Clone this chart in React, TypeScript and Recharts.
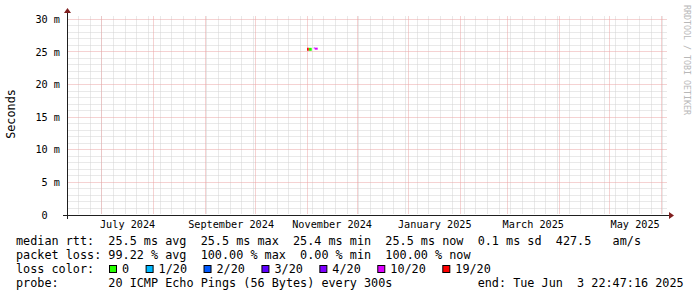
import { ComposedChart, Line, XAxis, YAxis, ReferenceLine } from 'recharts'

// time window of the graph (UTC ms)
const startTime = Date.UTC(2024, 5, 10, 5)
const endTime = Date.UTC(2025, 5, 4, 14)

// x axis labels (centred in the middle of each labelled month)
const monthLabels = ['July 2024', 'September 2024', 'November 2024', 'January 2025', 'March 2025', 'May 2025']
const monthLabelTimes = [
  Date.UTC(2024, 6, 16, 12),
  Date.UTC(2024, 8, 16, 12),
  Date.UTC(2024, 10, 16, 0),
  Date.UTC(2025, 0, 16, 12),
  Date.UTC(2025, 2, 16, 12),
  Date.UTC(2025, 4, 16, 12),
]

// major vertical grid: first of every month
const monthStarts = [
  Date.UTC(2024, 6, 1), Date.UTC(2024, 7, 1), Date.UTC(2024, 8, 1), Date.UTC(2024, 9, 1),
  Date.UTC(2024, 10, 1), Date.UTC(2024, 11, 1), Date.UTC(2025, 0, 1), Date.UTC(2025, 1, 1),
  Date.UTC(2025, 2, 1), Date.UTC(2025, 3, 1), Date.UTC(2025, 4, 1), Date.UTC(2025, 5, 1),
]

// minor vertical grid: mondays
const weekStarts: number[] = []
for (let t = Date.UTC(2024, 5, 17); t <= endTime; t += 7 * 86400000) weekStarts.push(t)

// y axis (milliseconds)
const yMax = 30.66
const yTicks = [0, 5, 10, 15, 20, 25, 30]
const yMinor = [1, 2, 3, 4, 6, 7, 8, 9, 11, 12, 13, 14, 16, 17, 18, 19, 21, 22, 23, 24, 26, 27, 28, 29]

// loss colours
const lossLabels = ['0', '1/20', '2/20', '3/20', '4/20', '10/20', '19/20']
const lossColors = ['#26ff00', '#00b8ff', '#0059ff', '#5e00ff', '#7e00ff', '#dd00ff', '#ff0000']

// the few median samples that got answers
const segFrom = [Date.UTC(2024, 10, 1, 0), Date.UTC(2024, 10, 2, 0), Date.UTC(2024, 10, 5, 0), Date.UTC(2024, 10, 5, 14)]
const segTo = [Date.UTC(2024, 10, 2, 0), Date.UTC(2024, 10, 3, 19), Date.UTC(2024, 10, 5, 14), Date.UTC(2024, 10, 7, 9)]
const segMedian = [25.4, 25.4, 25.6, 25.5]
const segLoss = ['19/20', '0', '4/20', '10/20']

const statLines = [
  'median rtt:  25.5 ms avg  25.5 ms max  25.4 ms min  25.5 ms now  0.1 ms sd  427.5   am/s',
  'packet loss: 99.22 % avg  100.00 % max  0.00 % min  100.00 % now',
]
const probeLine = 'probe:       20 ICMP Echo Pings (56 Bytes) every 300s            end: Tue Jun  3 22:47:16 2025'

const rows: Record<string, number>[] = []
segFrom.forEach((from, i) => {
  const key = 'loss' + lossLabels.indexOf(segLoss[i])
  rows.push({ t: from, [key]: segMedian[i] }, { t: segTo[i], [key]: segMedian[i] })
})

const mono = 'DejaVu Sans Mono'
const axisFont = 10.2
const legendFont = 11.8
const charW = legendFont * 0.6021

const minorColor = '#d2d2d2'
const majorColor = '#eba4a4'

// snap a grid line onto the pixel grid so the 1px dots stay sharp
const snap = (v: number) => Math.floor(v) + 0.5
const gridShape = (color: string) => (p: any) => (
  <line
    x1={snap(p.x1)}
    y1={p.y1 === p.y2 ? snap(p.y1) : snap(p.y1) - 2}
    x2={snap(p.x2)}
    y2={snap(p.y2)}
    stroke={color}
    strokeWidth={1}
    strokeDasharray="1 1"
  />
)

function XTick(props: any) {
  const { x, y, payload } = props
  const i = monthLabelTimes.indexOf(payload.value)
  return (
    <text x={x} y={y} textAnchor="middle" fontFamily={mono} fontSize={axisFont} fill="#000">
      {monthLabels[i]}
    </text>
  )
}

function YTick(props: any) {
  const { x, y, payload } = props
  const v = payload.value
  const label = v === 0 ? '0' : `${v} m`
  const shift = v === 0 ? 2 * axisFont * 0.6021 : 0
  return (
    <text x={x - shift} y={y + 3.6} textAnchor="end" fontFamily={mono} fontSize={axisFont} fill="#000">
      {label}
    </text>
  )
}

function Overlay() {
  let bx = 109
  const boxes = lossLabels.map((label, i) => {
    const x = bx
    bx += 12.5 + label.length * charW + 17
    return (
      <g key={label}>
        <rect x={x + 0.5} y={265.5} width={7} height={7} fill={lossColors[i]} stroke="#000" strokeWidth={1} />
        <text x={x + 13} y={273} fontFamily={mono} fontSize={legendFont}>{label}</text>
      </g>
    )
  })
  return (
    <svg width={697} height={297} style={{ position: 'absolute', left: 0, top: 0, pointerEvents: 'none' }}>
      <text transform="translate(15,114) rotate(-90)" textAnchor="middle" fontFamily={mono} fontSize={legendFont}>
        Seconds
      </text>
      <text transform="translate(684,5) rotate(90)" fontFamily={mono} fontSize={8.3} fill="#b8b8b8">
        RRDTOOL / TOBI OETIKER
      </text>
      {/* axes with arrows */}
      <line x1={63} y1={215.5} x2={671} y2={215.5} stroke="#1f1f1f" strokeWidth={1} />
      <line x1={67.5} y1={219} x2={67.5} y2={11} stroke="#1f1f1f" strokeWidth={1} />
      <polygon points="669,212 669,219 674,215.5" fill="#801f1f" />
      <polygon points="64,13 71,13 67.5,8" fill="#801f1f" />
      {statLines.map((s, i) => (
        <text key={i} x={16} y={245 + i * 14} fontFamily={mono} fontSize={legendFont} style={{ whiteSpace: 'pre' }}>
          {s}
        </text>
      ))}
      <text x={16} y={273} fontFamily={mono} fontSize={legendFont}>loss color:</text>
      {boxes}
      <text x={16} y={287} fontFamily={mono} fontSize={legendFont} style={{ whiteSpace: 'pre' }}>
        {probeLine}
      </text>
    </svg>
  )
}

export default function App() {
  return (
    <div style={{ position: 'absolute', left: 0, top: 0, width: 697, height: 297, background: '#fff' }}>
      <ComposedChart width={697} height={297} data={rows} margin={{ top: 15, right: 30, bottom: 62, left: 7 }}>
        <XAxis
          dataKey="t"
          type="number"
          domain={[startTime, endTime]}
          allowDataOverflow
          ticks={monthLabelTimes}
          tick={<XTick />}
          tickSize={0}
          tickMargin={13}
          axisLine={false}
          height={20}
          interval={0}
        />
        <YAxis
          type="number"
          domain={[0, yMax]}
          allowDataOverflow
          ticks={yTicks}
          tick={<YTick />}
          tickSize={0}
          tickMargin={7}
          axisLine={false}
          width={60}
          interval={0}
        />
        {weekStarts.map((t) => (
          <ReferenceLine key={'w' + t} x={t} shape={gridShape(minorColor)} />
        ))}
        {yMinor.map((v) => (
          <ReferenceLine key={'h' + v} y={v} shape={gridShape(minorColor)} />
        ))}
        {monthStarts.map((t) => (
          <ReferenceLine key={'m' + t} x={t} shape={gridShape(majorColor)} />
        ))}
        {yTicks.filter((v) => v > 0).map((v) => (
          <ReferenceLine key={'H' + v} y={v} shape={gridShape(majorColor)} />
        ))}
        {lossLabels.map((label, i) => (
          <Line
            key={label}
            dataKey={'loss' + i}
            stroke={lossColors[i]}
            strokeWidth={label === '4/20' ? 1 : label === '10/20' ? 2 : 3}
            dot={false}
            connectNulls={false}
            isAnimationActive={false}
            strokeLinecap="butt"
          />
        ))}
      </ComposedChart>
      <Overlay />
    </div>
  )
}
